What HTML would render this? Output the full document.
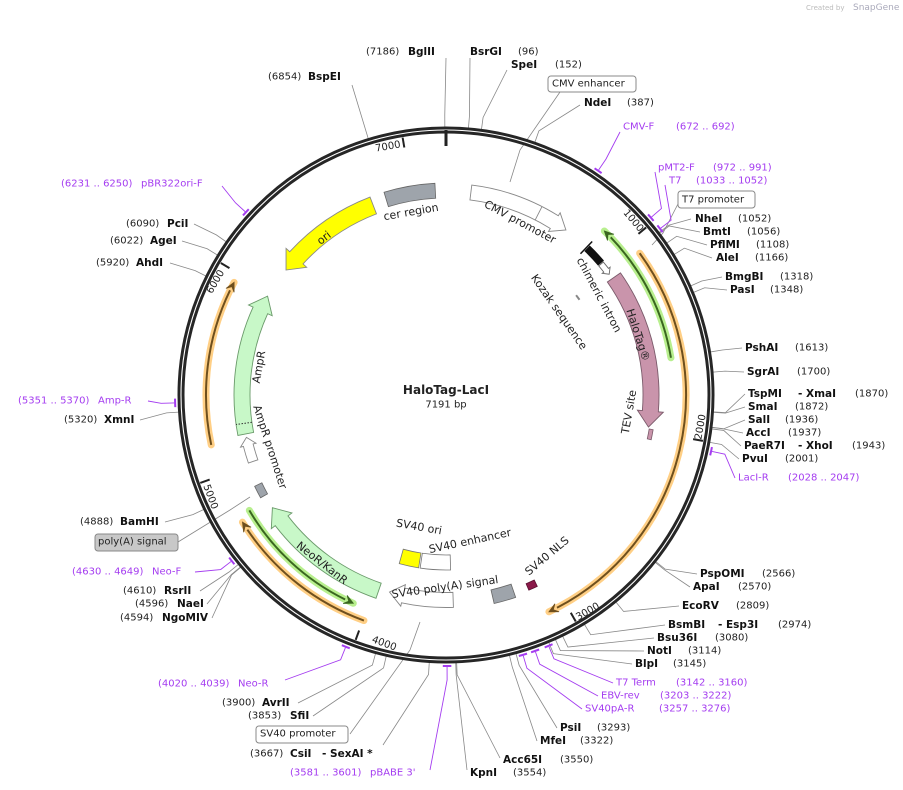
<!DOCTYPE html>
<html><head><meta charset="utf-8"><style>
html,body{margin:0;padding:0;background:#fff;}
svg{display:block;font-family:"DejaVu Sans","Liberation Sans",sans-serif;}
.t{font-size:10px;fill:#222;}
.b{font-size:10.5px;font-weight:bold;fill:#111;}
.p{font-size:10px;fill:#a43cf0;}
.i{font-size:11px;fill:#222;}
</style></head><body>
<svg id="s" width="903" height="790" viewBox="0 0 903 790" xmlns="http://www.w3.org/2000/svg">
<g id="geo"></g>
<rect x="548" y="76" width="88" height="16" rx="3" fill="#fff" stroke="#888"/>
<rect x="678" y="191" width="77" height="17" rx="3" fill="#fff" stroke="#888"/>
<rect x="256" y="726" width="92" height="17" rx="3" fill="#fff" stroke="#888"/>
<rect x="95" y="534" width="83" height="17" rx="3" fill="#c8c8c8" stroke="#888"/>
<g class="t" dominant-baseline="central">
<text x="806" y="8" style="font-size:7px;fill:#bbb">Created by</text>
<text x="853" y="8" style="font-size:9px;fill:#aab">SnapGene</text>
<text x="366" y="52">(7186)</text><text class="b" x="408" y="52">BglII</text>
<text class="b" x="470" y="52">BsrGI</text><text x="518" y="52">(96)</text>
<text class="b" x="511" y="65">SpeI</text><text x="555" y="65">(152)</text>
<text x="552" y="84">CMV enhancer</text>
<text class="b" x="584" y="103">NdeI</text><text x="627" y="103">(387)</text>
<text class="p" x="623" y="127">CMV-F</text><text class="p" x="676" y="127">(672 .. 692)</text>
<text x="268" y="77">(6854)</text><text class="b" x="308" y="77">BspEI</text>
<text class="p" x="658" y="168">pMT2-F</text><text class="p" x="713" y="168">(972 .. 991)</text>
<text class="p" x="669" y="181">T7</text><text class="p" x="696" y="181">(1033 .. 1052)</text>
<text x="682" y="200">T7 promoter</text>
<text class="b" x="695" y="219">NheI</text><text x="738" y="219">(1052)</text>
<text class="b" x="703" y="232">BmtI</text><text x="747" y="232">(1056)</text>
<text class="b" x="710" y="245">PflMI</text><text x="756" y="245">(1108)</text>
<text class="b" x="716" y="258">AleI</text><text x="755" y="258">(1166)</text>
<text class="b" x="725" y="277">BmgBI</text><text x="780" y="277">(1318)</text>
<text class="b" x="730" y="290">PasI</text><text x="770" y="290">(1348)</text>
<text class="b" x="745" y="348">PshAI</text><text x="795" y="348">(1613)</text>
<text class="b" x="747" y="372">SgrAI</text><text x="797" y="372">(1700)</text>
<text class="b" x="748" y="394">TspMI</text><text class="b" x="798" y="394">- XmaI</text><text x="855" y="394">(1870)</text>
<text class="b" x="748" y="407">SmaI</text><text x="795" y="407">(1872)</text>
<text class="b" x="748" y="420">SalI</text><text x="785" y="420">(1936)</text>
<text class="b" x="746" y="433">AccI</text><text x="788" y="433">(1937)</text>
<text class="b" x="744" y="446">PaeR7I</text><text class="b" x="798" y="446">- XhoI</text><text x="852" y="446">(1943)</text>
<text class="b" x="742" y="459">PvuI</text><text x="785" y="459">(2001)</text>
<text class="p" x="738" y="478">LacI-R</text><text class="p" x="788" y="478">(2028 .. 2047)</text>
<text class="b" x="700" y="574">PspOMI</text><text x="762" y="574">(2566)</text>
<text class="b" x="693" y="587">ApaI</text><text x="738" y="587">(2570)</text>
<text class="b" x="682" y="606">EcoRV</text><text x="736" y="606">(2809)</text>
<text class="b" x="668" y="625">BsmBI</text><text class="b" x="718" y="625">- Esp3I</text><text x="778" y="625">(2974)</text>
<text class="b" x="657" y="638">Bsu36I</text><text x="715" y="638">(3080)</text>
<text class="b" x="647" y="651">NotI</text><text x="688" y="651">(3114)</text>
<text class="b" x="635" y="664">BlpI</text><text x="673" y="664">(3145)</text>
<text class="p" x="616" y="683">T7 Term</text><text class="p" x="676" y="683">(3142 .. 3160)</text>
<text class="p" x="601" y="696">EBV-rev</text><text class="p" x="660" y="696">(3203 .. 3222)</text>
<text class="p" x="585" y="709">SV40pA-R</text><text class="p" x="659" y="709">(3257 .. 3276)</text>
<text class="b" x="560" y="728">PsiI</text><text x="597" y="728">(3293)</text>
<text class="b" x="540" y="741">MfeI</text><text x="580" y="741">(3322)</text>
<text class="b" x="503" y="760">Acc65I</text><text x="560" y="760">(3550)</text>
<text class="b" x="470" y="773">KpnI</text><text x="513" y="773">(3554)</text>
<text class="p" x="290" y="773">(3581 .. 3601)</text><text class="p" x="370" y="773">pBABE 3'</text>
<text x="250" y="754">(3667)</text><text class="b" x="290" y="754">CsiI</text><text class="b" x="322" y="754">- SexAI *</text>
<text x="260" y="734">SV40 promoter</text>
<text x="248" y="716">(3853)</text><text class="b" x="290" y="716">SfiI</text>
<text x="222" y="703">(3900)</text><text class="b" x="262" y="703">AvrII</text>
<text class="p" x="158" y="684">(4020 .. 4039)</text><text class="p" x="238" y="684">Neo-R</text>
<text x="120" y="618">(4594)</text><text class="b" x="162" y="618">NgoMIV</text>
<text x="135" y="604">(4596)</text><text class="b" x="177" y="604">NaeI</text>
<text x="123" y="591">(4610)</text><text class="b" x="164" y="591">RsrII</text>
<text class="p" x="72" y="572">(4630 .. 4649)</text><text class="p" x="152" y="572">Neo-F</text>
<text x="98" y="542">poly(A) signal</text>
<text x="80" y="522">(4888)</text><text class="b" x="120" y="522">BamHI</text>
<text x="64" y="420">(5320)</text><text class="b" x="104" y="420">XmnI</text>
<text class="p" x="18" y="401">(5351 .. 5370)</text><text class="p" x="98" y="401">Amp-R</text>
<text x="96" y="263">(5920)</text><text class="b" x="136" y="263">AhdI</text>
<text x="110" y="241">(6022)</text><text class="b" x="150" y="241">AgeI</text>
<text x="126" y="224">(6090)</text><text class="b" x="167" y="224">PciI</text>
<text class="p" x="61" y="184">(6231 .. 6250)</text><text class="p" x="141" y="184">pBR322ori-F</text>
</g>
<g class="t" text-anchor="middle" dominant-baseline="central">
<text transform="translate(388,147) rotate(-10)">7000</text>
<text transform="translate(633,221) rotate(50)">1000</text>
<text transform="translate(701,427) rotate(-80)">2000</text>
<text transform="translate(588,612) rotate(-30)">3000</text>
<text transform="translate(384,644) rotate(20)">4000</text>
<text transform="translate(210,497) rotate(70)">5000</text>
<text transform="translate(216,282) rotate(-60)">6000</text>
</g>
<g class="i" text-anchor="middle" dominant-baseline="central">
<text x="446" y="390" style="font-size:12px;font-weight:bold">HaloTag-LacI</text>
<text x="446" y="405" style="font-size:10px">7191 bp</text>
<text transform="translate(411,212) rotate(-10)">cer region</text>
<text transform="translate(520,222) rotate(28)">CMV promoter</text>
<text transform="translate(599,295) rotate(62)">chimeric intron</text>
<text transform="translate(559,312) rotate(55)">Kozak sequence</text>
<text transform="translate(638,335) rotate(72)">HaloTag®</text>
<text transform="translate(629,412) rotate(-80)">TEV site</text>
<text transform="translate(324,238) rotate(-38)">ori</text>
<text transform="translate(259,367) rotate(-80)">AmpR</text>
<text transform="translate(270,447) rotate(72)">AmpR promoter</text>
<text transform="translate(322,563) rotate(38)">NeoR/KanR</text>
<text transform="translate(419,527) rotate(10)">SV40 ori</text>
<text transform="translate(470,541) rotate(-12)">SV40 enhancer</text>
<text transform="translate(445,587) rotate(-8)">SV40 poly(A) signal</text>
<text transform="translate(547,556) rotate(-40)">SV40 NLS</text>
</g>
</svg>
<script>
(function(){
var cx=446,cy=395,NS="http://www.w3.org/2000/svg",g=document.getElementById("geo");
function P(a,r){a=a*Math.PI/180;return [cx+r*Math.sin(a),cy-r*Math.cos(a)];}
function s(p){return p[0].toFixed(2)+","+p[1].toFixed(2);}
function el(t,at){var e=document.createElementNS(NS,t);for(var k in at)e.setAttribute(k,at[k]);g.appendChild(e);return e;}
function arcD(a1,a2,r){var l=(a2-a1)>180?1:0;return "M"+s(P(a1,r))+" A"+r+","+r+" 0 "+l+" 1 "+s(P(a2,r));}
function band(a1,a2,r1,r2,f,st){var l=(a2-a1)>180?1:0;
 var d="M"+s(P(a1,r2))+" A"+r2+","+r2+" 0 "+l+" 1 "+s(P(a2,r2))+" L"+s(P(a2,r1))+" A"+r1+","+r1+" 0 "+l+" 0 "+s(P(a1,r1))+"Z";
 el("path",{d:d,fill:f,stroke:st||"#666","stroke-width":0.8});}
function farrow(a1,a2,rc,hw,hh,hlp,end,f,st){var hl=hlp/rc*180/Math.PI,d,l;
 if(end){var b=a2-hl;l=(b-a1)>180?1:0;
  d="M"+s(P(a1,rc+hw))+" A"+(rc+hw)+","+(rc+hw)+" 0 "+l+" 1 "+s(P(b,rc+hw))+" L"+s(P(b,rc+hh))+" L"+s(P(a2,rc))+" L"+s(P(b,rc-hh))+" L"+s(P(b,rc-hw))+" A"+(rc-hw)+","+(rc-hw)+" 0 "+l+" 0 "+s(P(a1,rc-hw))+"Z";}
 else{var b=a1+hl;l=(a2-b)>180?1:0;
  d="M"+s(P(a1,rc))+" L"+s(P(b,rc+hh))+" L"+s(P(b,rc+hw))+" A"+(rc+hw)+","+(rc+hw)+" 0 "+l+" 1 "+s(P(a2,rc+hw))+" L"+s(P(a2,rc-hw))+" A"+(rc-hw)+","+(rc-hw)+" 0 "+l+" 0 "+s(P(b,rc-hw))+" L"+s(P(b,rc-hh))+"Z";}
 el("path",{d:d,fill:f,stroke:st,"stroke-width":0.9});}
function line(p,q,c,w){el("path",{d:"M"+s(p)+" L"+s(q),stroke:c,"stroke-width":w||0.8,fill:"none"});}
function larc(a1,a2,r,halo,core,tipEnd){
 el("path",{d:arcD(a1,a2,r),stroke:halo,"stroke-width":7,fill:"none","stroke-linecap":"round"});
 var hl=9/r*180/Math.PI,ta=tipEnd?a2:a1,b=tipEnd?a2-hl:a1+hl;
 el("path",{d:arcD(tipEnd?a1:b,tipEnd?b:a2,r),stroke:core,"stroke-width":2,fill:"none"});
 el("path",{d:"M"+s(P(b,r+4.5))+" L"+s(P(ta,r))+" L"+s(P(b,r-4.5))+" L"+s(P(b+(tipEnd?2:-2)*0.5,r))+"Z",fill:core,stroke:core,"stroke-width":0.8});}
var deg=function(p){return p/7191*360;};
var L=[[7186,446,58],[96,470,58],[152,507,70],[387,580,105],[1052,691,219],[1056,700,232],[1108,707,245],[1166,712,258],
[1318,722,277],[1348,727,290],[1613,742,348],[1700,744,372],[1870,745,394],[1872,745,407],[1936,745,420],[1937,743,433],
[1943,741,446],[2001,739,459],[2566,697,574],[2570,690,587],[2809,679,606],[2974,665,625],[3080,654,638],[3114,644,651],
[3145,632,664],[3293,557,728],[3322,537,741],[3550,500,758],[3554,467,770],[3667,383,745],[3853,313,716],[3900,298,703],
[4594,212,618],[4596,207,604],[4610,200,591],[4888,165,522],[5320,140,420],[5920,170,263],[6022,182,241],[6090,194,224],[6854,352,85]];
L.forEach(function(x){var a=deg(x[0]);var p1=P(a,268),p2=P(a,280);
 el("path",{d:"M"+s(p1)+" L"+s(p2)+" L"+x[1]+","+x[2],stroke:"#888","stroke-width":0.8,fill:"none"});});
[[[560,92],[520,150],[510,182]],[[680,200],[663,233],[652,245]],[[350,734],[410,650],[420,622]],[[178,542],[230,510],[250,497]]].forEach(function(q){
 el("path",{d:"M"+q.map(function(p){return p.join(",");}).join(" L"),stroke:"#888","stroke-width":0.8,fill:"none"});});
el("circle",{cx:cx,cy:cy,r:265,fill:"none",stroke:"#262626","stroke-width":7});
el("circle",{cx:cx,cy:cy,r:265,fill:"none",stroke:"#fff","stroke-width":1.1});
for(var k=1;k<=7;k++){var a=deg(k*1000);line(P(a,261),P(a,251),"#222",2);}
line([446,130],[446,146],"#222",3);
var PR=[[682,620,132],[981,655,172],[1042,665,185],[2037,735,478],[3151,613,683],[3212,598,696],[3266,582,709],[3591,430,770],[4029,285,680],[4639,195,572],[5360,148,401],[6240,222,186]];
PR.forEach(function(x){var a=deg(x[0]);
 el("path",{d:arcD(a-0.9,a+0.9,271),stroke:"#a43cf0","stroke-width":2,fill:"none"});
 var p2=P(a,285);el("path",{d:"M"+s(P(a,272))+" L"+s(p2)+" L"+x[1]+","+x[2],stroke:"#a43cf0","stroke-width":0.9,fill:"none"});});
larc(53.8,154.6,240,"#ffcf85","#6e4f1e",true);
larc(200,238,240,"#ffcf85","#6e4f1e",true);
larc(258,298,240,"#ffcf85","#6e4f1e",true);
larc(44,80.6,228,"#b8ef8e","#3a6620",false);
larc(204,239.6,228,"#b8ef8e","#3a6620",false);
band(343,357,197,212,"#9ea4ab","#666");
farrow(7,36,204,7.5,11,14,true,"#fff","#888");
line(P(27,196.5),P(27,211.5),"#888",0.9);
farrow(308,339,203,9,14,16,false,"#ffff00","#888");
band(44,49.5,200,207,"#111","#111");
line(P(43.6,195),P(43.6,212),"#111",1.5);
farrow(49.8,53.5,203,3,5,5,true,"#fff","#666");
line(P(52.5,164),P(54.5,164),"#888",2);
farrow(55,99,205,8,13,16,true,"#c994ab","#7a5a6a");
band(99.5,102.3,206,210,"#c994ab","#7a5a6a");
band(154.5,157,205,212,"#8b1a4a","#5a1030");
band(161,167,200,214,"#9ea4ab","#666");
farrow(178,196,205,7.5,11,14,true,"#fff","#888");
band(189,195.5,160,175,"#ffff00","#777");
band(178.5,188.5,160,175,"#fff","#777");
farrow(199,237,207,8,13,16,true,"#c8f8c8","#6a9a6a");
band(241,244.5,204,212,"#9ea4ab","#666");
farrow(251,258,204,5,8,8,true,"#fff","#888");
farrow(259,299,204,8,13,16,true,"#c8f8c8","#6a9a6a");
el("path",{d:"M"+s(P(262,196))+" L"+s(P(262,212)),stroke:"#333","stroke-width":1,"stroke-dasharray":"1.5,1.5"});
})();
</script>
</body></html>
